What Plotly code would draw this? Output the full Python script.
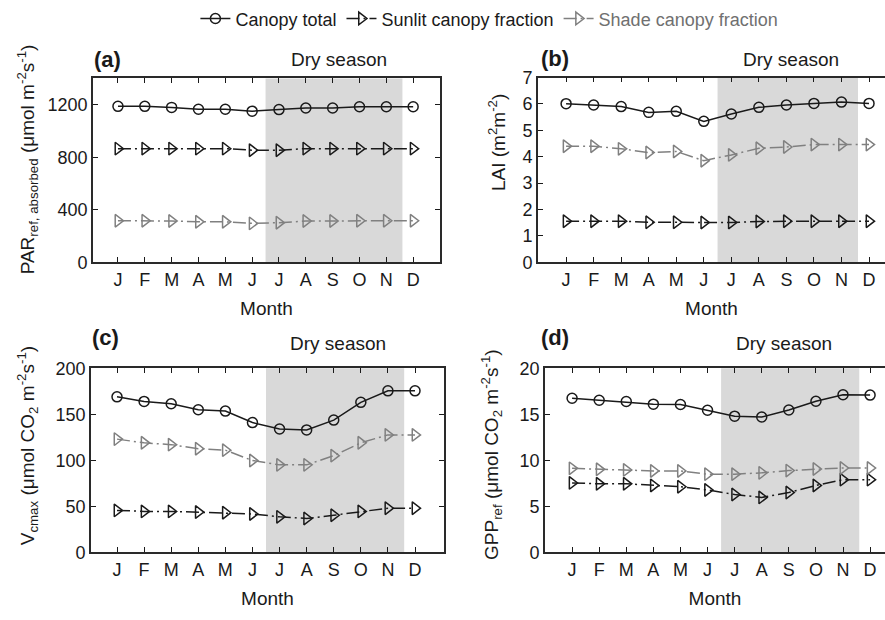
import plotly.graph_objects as go

months = ["J", "F", "M", "A", "M", "J", "J", "A", "S", "O", "N", "D"]
month_pos = list(range(1, 13))

# (a) PAR_ref, absorbed
par_total = [1188, 1188, 1180, 1166, 1166, 1151, 1163, 1175, 1175, 1185, 1185, 1185]
par_sunlit = [866, 866, 866, 866, 866, 854, 854, 866, 866, 866, 866, 866]
par_shade = [317, 317, 315, 309, 309, 297, 302, 315, 315, 317, 317, 317]

# (b) LAI
lai_total = [6.01, 5.96, 5.90, 5.68, 5.72, 5.34, 5.62, 5.87, 5.96, 6.02, 6.07, 6.02]
lai_sunlit = [1.56, 1.56, 1.56, 1.52, 1.52, 1.51, 1.51, 1.55, 1.56, 1.56, 1.56, 1.56]
lai_shade = [4.40, 4.40, 4.30, 4.16, 4.20, 3.85, 4.07, 4.32, 4.37, 4.46, 4.46, 4.46]

# (c) Vcmax
vc_total = [169, 164, 161.5, 155, 153.5, 141, 134, 133, 143.7, 163, 175.5, 175.5]
vc_sunlit = [45.5, 44.4, 44.4, 43.7, 43, 41.6, 38.5, 36.7, 40.2, 44.4, 47.9, 47.9]
vc_shade = [123, 119, 117, 112.6, 111, 99.7, 95, 95, 105, 119, 127.6, 127.6]

# (d) GPP_ref
gpp_total = [16.74, 16.53, 16.39, 16.1, 16.07, 15.44, 14.8, 14.7, 15.47, 16.42, 17.12, 17.09]
gpp_sunlit = [7.54, 7.44, 7.44, 7.26, 7.12, 6.77, 6.28, 5.96, 6.49, 7.26, 7.89, 7.89]
gpp_shade = [9.12, 9.02, 8.95, 8.84, 8.84, 8.49, 8.49, 8.63, 8.88, 9.05, 9.16, 9.16]

dry_start, dry_end = 6.5, 11.6

W, H = 885, 620
FONT = "Liberation Sans, Arial, sans-serif"
BLACK = "#1a1a1a"
GRAY = "#808080"
DASH = "13px,4px,2px,4px"

panels = [
    dict(total=par_total, sun=par_sunlit, shade=par_shade, x=(93, 440), y=(68, 259),
         xr=[0.07, 13.0], yr=[0, 1400], yt=[0, 400, 800, 1200], mirror=True),
    dict(total=lai_total, sun=lai_sunlit, shade=lai_shade, x=(538, 885), y=(67, 259),
         xr=[-0.02, 12.58], yr=[0, 7], yt=[0, 1, 2, 3, 4, 5, 6, 7], mirror=False),
    dict(total=vc_total, sun=vc_sunlit, shade=vc_shade, x=(91, 444), y=(369, 560),
         xr=[0.04, 13.07], yr=[0, 200], yt=[0, 50, 100, 150, 200], mirror=True),
    dict(total=gpp_total, sun=gpp_sunlit, shade=gpp_shade, x=(545, 885), y=(369, 560),
         xr=[0.0, 12.55], yr=[0, 20], yt=[0, 5, 10, 15, 20], mirror=False),
]

fig = go.Figure()
layout = dict()
shapes = []
annotations = []

for i, p in enumerate(panels):
    n = "" if i == 0 else str(i + 1)
    xa, ya = "x" + n, "y" + n
    show = i == 0
    fig.add_trace(go.Scatter(
        x=month_pos, y=p["total"], xaxis=xa, yaxis=ya, mode="lines+markers",
        name="Canopy total", showlegend=show, legendrank=1,
        line=dict(color=BLACK, width=1.5),
        marker=dict(symbol="circle-open", size=10, color=BLACK, line=dict(width=1.5))))
    fig.add_trace(go.Scatter(
        x=month_pos, y=p["sun"], xaxis=xa, yaxis=ya, mode="lines+markers",
        name="Sunlit canopy fraction", showlegend=show, legendrank=2,
        line=dict(color=BLACK, width=1.5, dash=DASH),
        marker=dict(symbol="triangle-right-open", size=11, color=BLACK, line=dict(width=1.5))))
    fig.add_trace(go.Scatter(
        x=month_pos, y=p["shade"], xaxis=xa, yaxis=ya, mode="lines+markers",
        name="<span style='color:#707070'>Shade canopy fraction</span>",
        showlegend=show, legendrank=3,
        line=dict(color=GRAY, width=1.5, dash=DASH),
        marker=dict(symbol="triangle-right-open", size=11, color=GRAY, line=dict(width=1.5))))

    layout["xaxis" + n] = dict(
        domain=[p["x"][0] / W, p["x"][1] / W], range=p["xr"], anchor=ya,
        tickmode="array", tickvals=month_pos, ticktext=months,
        ticks="inside", ticklen=5, tickwidth=1.3, tickcolor=BLACK,
        showline=True, linecolor="#2a2a2a", linewidth=1.8, mirror="ticks",
        showgrid=False, zeroline=False,
        tickfont=dict(size=18, color=BLACK, family=FONT),
        title=dict(text="Month", font=dict(size=19, color=BLACK, family=FONT), standoff=13))
    layout["yaxis" + n] = dict(
        domain=[1 - p["y"][1] / H, 1 - p["y"][0] / H], range=p["yr"], anchor=xa,
        tickmode="array", tickvals=p["yt"],
        ticks="inside", ticklen=5, tickwidth=1.3, tickcolor=BLACK,
        showline=True, linecolor="#2a2a2a", linewidth=1.8,
        mirror="ticks" if p["mirror"] else False,
        showgrid=False, zeroline=False,
        tickfont=dict(size=18, color=BLACK, family=FONT))
    shapes.append(dict(type="rect", xref=xa, yref=ya + " domain", x0=dry_start, x1=dry_end,
                       y0=0, y1=1, fillcolor="#d9d9d9", line=dict(width=0), layer="below"))

# panel labels, dry season labels
labels = [("(a)", 92, 48), ("(b)", 539, 47), ("(c)", 90, 337), ("(d)", 539, 337)]
for t, px, py in labels:
    annotations.append(dict(text="<b>" + t + "</b>", x=px / W, y=1 - py / H, xref="paper", yref="paper",
                            xanchor="left", yanchor="middle", showarrow=False,
                            font=dict(size=22, color=BLACK, family=FONT)))
dry = [(339, 48), (791, 48), (338, 343), (784, 343)]
for px, py in dry:
    annotations.append(dict(text="Dry season", x=px / W, y=1 - py / H, xref="paper", yref="paper",
                            xanchor="center", yanchor="middle", showarrow=False,
                            font=dict(size=19, color=BLACK, family=FONT)))

ytitles = [
    ("PAR<sub>ref, absorbed</sub> (μmol m<sup>-2</sup>s<sup>-1</sup>)", 27, 152),
    ("LAI (m<sup>2</sup>m<sup>-2</sup>)", 497, 134),
    ("V<sub>cmax</sub> (μmol CO<sub>2</sub> m<sup>-2</sup>s<sup>-1</sup>)", 27, 450),
    ("GPP<sub>ref</sub> (μmol CO<sub>2</sub> m<sup>-2</sup>s<sup>-1</sup>)", 492, 459),
]
for t, px, py in ytitles:
    annotations.append(dict(text=t, x=px / W, y=1 - py / H, xref="paper", yref="paper",
                            xanchor="center", yanchor="middle", textangle=-90, showarrow=False,
                            font=dict(size=19, color=BLACK, family=FONT)))

fig.update_layout(
    **layout,
    width=W, height=H,
    margin=dict(l=0, r=0, t=0, b=0),
    paper_bgcolor="white", plot_bgcolor="white",
    shapes=shapes, annotations=annotations,
    font=dict(family=FONT, color=BLACK),
    legend=dict(orientation="h", x=0.553, xanchor="center", y=1 - 6 / H, yanchor="middle",
                font=dict(size=18, color=BLACK, family=FONT), itemwidth=30,
                bgcolor="rgba(0,0,0,0)", tracegroupgap=0),
)

fig.write_html("out.html")
